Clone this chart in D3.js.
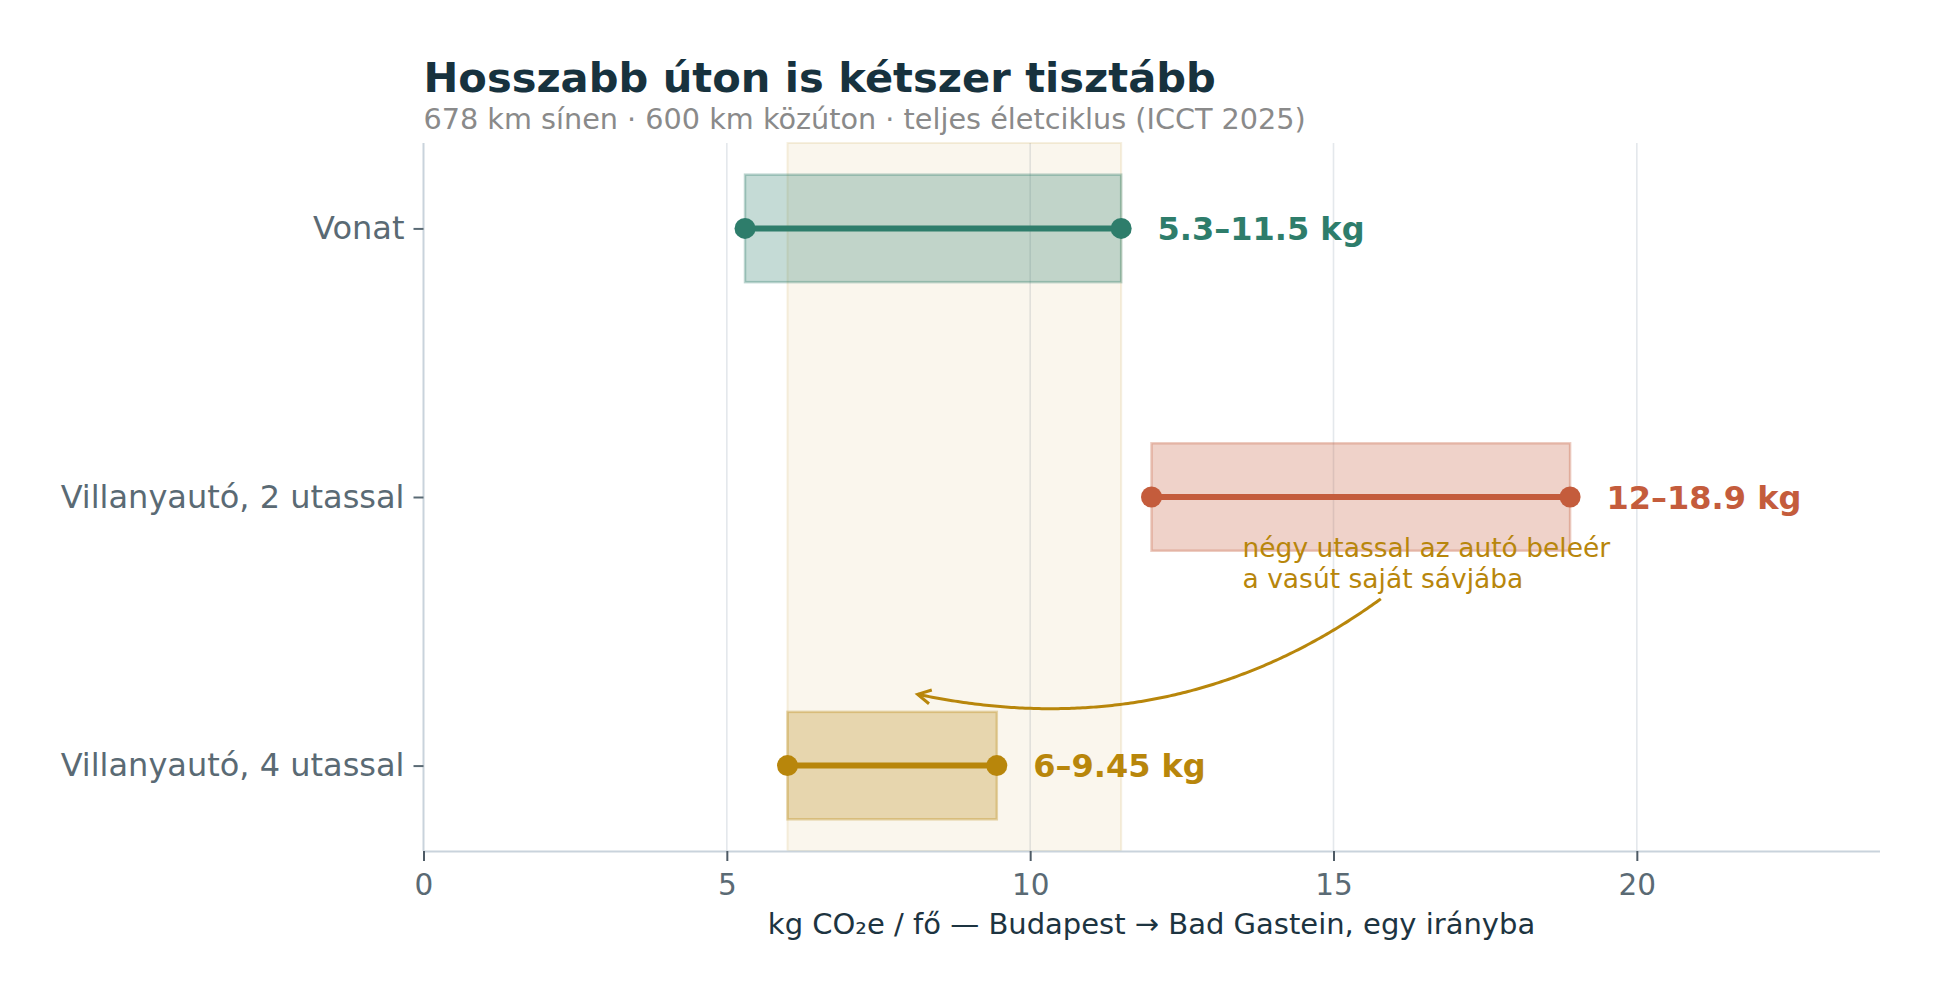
<!DOCTYPE html>
<html>
<head>
<meta charset="utf-8">
<script src="https://cdn.jsdelivr.net/npm/d3@7"></script>
<style>
    body { margin: 0; background: #ffffff; }
    svg { display: block; font-family: "DejaVu Sans", sans-serif; }
</style>
</head>
<body>
<svg id="chart"></svg>
<script>
// Data //
const categories = ["Vonat", "Villanyautó, 2 utassal", "Villanyautó, 4 utassal"]
const lowValues = [5.3, 12, 6]
const highValues = [11.5, 18.9, 9.45]
const rangeLabels = ["5.3–11.5 kg", "12–18.9 kg", "6–9.45 kg"]
const seriesColors = ["#2e7d6b", "#c45c3c", "#b8860b"]
const railBand = [6, 11.5]
const xTicks = [0, 5, 10, 15, 20]
const xDomain = [0, 24]
const noteLines = ["négy utassal az autó beleér", "a vasút saját sávjába"]
const noteText = [13.5, 1.25]
const noteTarget = [8.05, 1.73]

const title = "Hosszabb úton is kétszer tisztább"
const subtitle = "678 km sínen · 600 km közúton · teljes életciklus (ICCT 2025)"
const xLabel = "kg CO₂e / fő — Budapest → Bad Gastein, egy irányba"

const W = 1939, H = 1000
const margin = {top: 143, right: 59.5, bottom: 149, left: 423.5}

const svg = d3.select("#chart").attr("width", W).attr("height", H)

const x = d3.scaleLinear()
    .domain(xDomain)
    .range([margin.left, W - margin.right])

// rows as a linear scale on the category index
const yIdx = d3.scaleLinear()
    .domain([-0.318, categories.length - 1 + 0.318])
    .range([margin.top, H - margin.bottom])
const y = d3.scalePoint()
    .domain(categories)
    .range([yIdx(0), yIdx(categories.length - 1)])

const plotTop = margin.top, plotBottom = H - margin.bottom

// grid //
svg.append("g")
    .selectAll("line")
    .data(xTicks.filter(d => d > 0))
    .join("line")
    .attr("x1", d => x(d)).attr("x2", d => x(d))
    .attr("y1", plotTop).attr("y2", plotBottom)
    .attr("stroke", "#e4e8ec")
    .attr("stroke-width", 1.6)

// rail band //
svg.append("rect")
    .attr("x", x(railBand[0]))
    .attr("y", plotTop)
    .attr("width", x(railBand[1]) - x(railBand[0]))
    .attr("height", plotBottom - plotTop)
    .attr("fill", "rgba(184,134,11,0.075)")
    .attr("stroke", "rgba(184,134,11,0.12)")
    .attr("stroke-width", 2)

// ranges //
const rows = categories.map((c, i) => ({cat: c, lo: lowValues[i], hi: highValues[i], label: rangeLabels[i], color: seriesColors[i], i: i}))

const boxH = yIdx(0.2) - yIdx(-0.2)

const g = svg.append("g")
    .selectAll("g")
    .data(rows)
    .join("g")

g.append("rect")
    .attr("x", d => x(d.lo))
    .attr("y", d => y(d.cat) - boxH / 2)
    .attr("width", d => x(d.hi) - x(d.lo))
    .attr("height", boxH)
    .attr("fill", d => d.color)
    .attr("fill-opacity", 0.28)
    .attr("stroke", d => d.color)
    .attr("stroke-opacity", 0.32)
    .attr("stroke-width", 2.5)

g.append("line")
    .attr("x1", d => x(d.lo)).attr("x2", d => x(d.hi))
    .attr("y1", d => y(d.cat)).attr("y2", d => y(d.cat))
    .attr("stroke", d => d.color)
    .attr("stroke-width", 6)

g.selectAll("circle")
    .data(d => [d.lo, d.hi].map(v => ({v: v, d: d})))
    .join("circle")
    .attr("cx", p => x(p.v))
    .attr("cy", p => y(p.d.cat))
    .attr("r", 10.5)
    .attr("fill", p => p.d.color)

g.append("text")
    .attr("x", d => x(d.hi + 0.6))
    .attr("y", d => y(d.cat))
    .attr("dy", "0.36em")
    .attr("fill", d => d.color)
    .attr("font-size", 32)
    .attr("font-weight", "bold")
    .text(d => d.label)

// axes //
const xAxis = svg.append("g")
    .attr("transform", `translate(0,${plotBottom})`)
    .call(d3.axisBottom(x).tickValues(xTicks).tickFormat(d3.format("d")).tickSize(10).tickSizeOuter(0).tickPadding(13))
xAxis.select(".domain").attr("stroke", "#c9d3dc").attr("stroke-width", 2)
xAxis.selectAll(".tick line").attr("stroke", "#4e5b66").attr("stroke-width", 2)
xAxis.selectAll(".tick text")
    .attr("fill", "#5a6a74")
    .attr("font-size", 29.5)
    .attr("font-family", "DejaVu Sans")

const yAxis = svg.append("g")
    .attr("transform", `translate(${margin.left},0)`)
    .call(d3.axisLeft(y).tickSize(10).tickSizeOuter(0).tickPadding(9))
yAxis.select(".domain").attr("d", `M0,${plotTop}V${plotBottom}`).attr("stroke", "#c9d3dc").attr("stroke-width", 2)
yAxis.selectAll(".tick line").attr("stroke", "#5a6a74").attr("stroke-width", 2)
yAxis.selectAll(".tick text")
    .attr("fill", "#5a6a74")
    .attr("font-size", 32)
    .attr("font-family", "DejaVu Sans")

// titles //
svg.append("text")
    .attr("x", margin.left).attr("y", 92)
    .attr("fill", "#17323e")
    .attr("font-size", 41.6)
    .attr("font-weight", "bold")
    .text(title)

svg.append("text")
    .attr("x", margin.left).attr("y", 129)
    .attr("fill", "#8a8a8a")
    .attr("font-size", 28.7)
    .text(subtitle)

svg.append("text")
    .attr("x", (x.range()[0] + x.range()[1]) / 2).attr("y", 934)
    .attr("text-anchor", "middle")
    .attr("fill", "#1d3441")
    .attr("font-size", 29)
    .text(xLabel)

// annotation //
const noteColor = seriesColors[2]
const lineH = 31
const ncy = yIdx(noteText[1])
const note = svg.append("text")
    .attr("fill", noteColor)
    .attr("font-size", 26.5)
note.selectAll("tspan")
    .data(noteLines)
    .join("tspan")
    .attr("x", x(noteText[0]))
    .attr("y", (d, i) => ncy + 8 + (i - 0.5) * lineH)
    .text(d => d)

const bb = note.node().getBBox()
const p0 = [bb.x + bb.width / 2, bb.y + bb.height / 2]
const p2 = [x(noteTarget[0]), yIdx(noteTarget[1])]
const rad = -0.25
const dx = p2[0] - p0[0], dy = p2[1] - p0[1]
const c = [(p0[0] + p2[0]) / 2 - rad * dy, (p0[1] + p2[1]) / 2 + rad * dx]
const bez = t => [
    (1 - t) * (1 - t) * p0[0] + 2 * t * (1 - t) * c[0] + t * t * p2[0],
    (1 - t) * (1 - t) * p0[1] + 2 * t * (1 - t) * c[1] + t * t * p2[1]
]
const pad = 5
const inBox = p => p[0] > bb.x - pad && p[0] < bb.x + bb.width + pad && p[1] > bb.y - pad && p[1] < bb.y + bb.height + pad
const pts = d3.range(0, 1.0001, 0.005).map(bez).filter(p => !inBox(p))
// shrink end a little
while (pts.length > 2) {
    const last = pts[pts.length - 1]
    if (Math.hypot(last[0] - p2[0], last[1] - p2[1]) < 5) pts.pop()
    else break
}
svg.append("path")
    .attr("d", d3.line()(pts))
    .attr("fill", "none")
    .attr("stroke", noteColor)
    .attr("stroke-width", 3)

const tip = pts[pts.length - 1]
const prev = pts[pts.length - 4]
const ang = Math.atan2(tip[1] - prev[1], tip[0] - prev[0])
const hl = 13, hw = 7
const back = [tip[0] - hl * Math.cos(ang), tip[1] - hl * Math.sin(ang)]
const nx = -Math.sin(ang), ny = Math.cos(ang)
svg.append("path")
    .attr("d", d3.line()([
        [back[0] + hw * nx, back[1] + hw * ny],
        tip,
        [back[0] - hw * nx, back[1] - hw * ny]
    ]))
    .attr("fill", "none")
    .attr("stroke", noteColor)
    .attr("stroke-width", 3)
    .attr("stroke-linejoin", "miter")
</script>
</body>
</html>
